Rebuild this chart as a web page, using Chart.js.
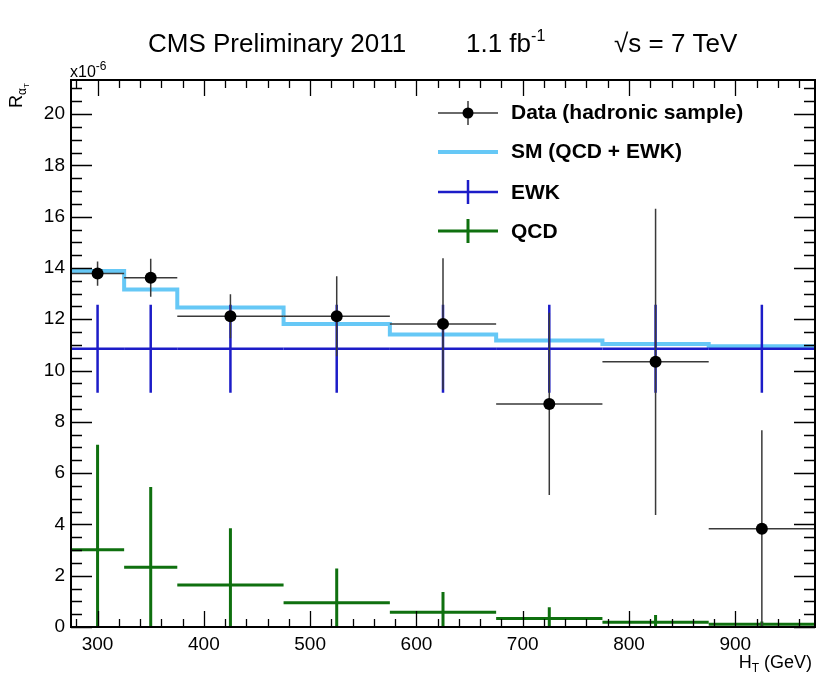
<!DOCTYPE html>
<html>
<head>
<meta charset="utf-8">
<script src="https://cdn.jsdelivr.net/npm/chart.js@4/dist/chart.umd.min.js"></script>
<style>
  html, body { margin: 0; padding: 0; background: #ffffff; }
  canvas { display: block; }
</style>
</head>
<body>
<canvas id="rAlphaT" width="816" height="677"></canvas>
<script>
// bins of H_T (GeV)
const binEdges   = [275, 325, 375, 475, 575, 675, 775, 875, 975];
const binCenters = [300, 350, 425, 525, 625, 725, 825, 925];

// R_alphaT values (x10^-6)
const dataValues = [13.78, 13.62, 12.12, 12.12, 11.82, 8.70, 10.34, 3.83];
const dataErrors = [0.47, 0.74, 0.86, 1.56, 2.56, 3.55, 5.97, 3.84];
const smValues   = [13.88, 13.16, 12.46, 11.82, 11.41, 11.17, 11.04, 10.95];
const ewkValues  = [10.85, 10.85, 10.85, 10.85, 10.85, 10.85, 10.85, 10.85];
const ewkErrors  = [1.72, 1.72, 1.72, 1.72, 1.72, 1.72, 1.72, 1.72];
const qcdValues  = [3.01, 2.33, 1.64, 0.95, 0.58, 0.33, 0.19, 0.11];
const qcdErrors  = [4.10, 3.13, 2.21, 1.33, 0.78, 0.44, 0.28, 0.10];

// axis ticks
const xTickValues = [300, 400, 500, 600, 700, 800, 900];
const yTickValues = [0, 2, 4, 6, 8, 10, 12, 14, 16, 18, 20];

const FONT = '"Liberation Sans", Arial, Helvetica, sans-serif';
const colData = '#000000';
const colDataBar = '#3a3a3a';
const colSM = '#66c8f6';
const colEWK = '#1c1cc8';
const colQCD = '#0f700f';

// SM drawn as a step histogram: one point per left bin edge + final edge
const smPoints = binEdges.map((e, i) => ({ x: e, y: smValues[Math.min(i, smValues.length - 1)] }));
const dataPoints = binCenters.map((c, i) => ({ x: c, y: dataValues[i] }));

// draws ROOT-style "E" crosses: horizontal bin width + vertical error
function drawCrosses(ctx, x, y, values, errors, color, width) {
  ctx.strokeStyle = color;
  ctx.lineWidth = width;
  ctx.lineCap = 'butt';
  values.forEach((v, i) => {
    ctx.beginPath();
    ctx.moveTo(x.getPixelForValue(binEdges[i]), y.getPixelForValue(v));
    ctx.lineTo(x.getPixelForValue(binEdges[i + 1]), y.getPixelForValue(v));
    ctx.moveTo(x.getPixelForValue(binCenters[i]), y.getPixelForValue(Math.max(v - errors[i], 0)));
    ctx.lineTo(x.getPixelForValue(binCenters[i]), y.getPixelForValue(v + errors[i]));
    ctx.stroke();
  });
}

// text with a raised or lowered smaller part
function textRun(ctx, parts, x0, y0) {
  let x = x0;
  parts.forEach(p => {
    ctx.font = (p.bold ? 'bold ' : '') + p.size + 'px ' + FONT;
    ctx.fillText(p.t, x, y0 + (p.dy || 0));
    x += ctx.measureText(p.t).width;
  });
  return x;
}

const histPlugin = {
  id: 'histPlugin',
  afterDatasetDraw(chart, args) {
    if (args.index !== 1) return; // right after the SM line
    const { ctx, chartArea: a, scales: { x, y } } = chart;
    ctx.save();
    ctx.beginPath();
    ctx.rect(a.left, a.top, a.right - a.left, a.bottom - a.top);
    ctx.clip();
    drawCrosses(ctx, x, y, ewkValues, ewkErrors, colEWK, 2.5);
    drawCrosses(ctx, x, y, qcdValues, qcdErrors, colQCD, 3);
    drawCrosses(ctx, x, y, dataValues, dataErrors, colDataBar, 1.5);
    ctx.restore();
  },
  afterDraw(chart) {
    const { ctx, chartArea: a, scales: { x, y } } = chart;
    ctx.save();

    // ticks inside the frame
    ctx.strokeStyle = '#000';
    ctx.lineWidth = 1.3;
    ctx.beginPath();
    for (let v = 280; v <= 975; v += 20) {
      const px = Math.round(x.getPixelForValue(v)) + 0.5;
      const len = v % 100 === 0 ? 16 : 8;
      ctx.moveTo(px, a.bottom); ctx.lineTo(px, a.bottom - len);
      ctx.moveTo(px, a.top); ctx.lineTo(px, a.top + len);
    }
    for (let v = 0; v <= y.max; v += 0.5) {
      const py = Math.round(y.getPixelForValue(v)) + 0.5;
      const len = v % 2 === 0 ? 21 : 11;
      ctx.moveTo(a.left, py); ctx.lineTo(a.left + len, py);
      ctx.moveTo(a.right, py); ctx.lineTo(a.right - len, py);
    }
    ctx.stroke();

    // frame
    ctx.lineWidth = 2;
    ctx.strokeRect(a.left, a.top, a.right - a.left, a.bottom - a.top);

    ctx.fillStyle = '#000';
    ctx.textBaseline = 'alphabetic';

    // title
    textRun(ctx, [{ t: 'CMS Preliminary 2011', size: 26 }], 148, 52);
    textRun(ctx, [{ t: '1.1 fb', size: 26 }, { t: '-1', size: 16, dy: -11 }], 466, 52);
    textRun(ctx, [{ t: '\u221As = 7 TeV', size: 26 }], 614, 52);

    // exponent
    textRun(ctx, [{ t: 'x10', size: 16 }, { t: '-6', size: 12, dy: -7 }], 70, 77);

    // y title (rotated)
    ctx.save();
    ctx.translate(22, 108);
    ctx.rotate(-Math.PI / 2);
    const rx = textRun(ctx, [{ t: 'R', size: 18 }, { t: '\u03B1', size: 12, dy: 4 }], 0, 0);
    textRun(ctx, [{ t: 'T', size: 8, dy: 7 }], rx, 0);
    ctx.restore();

    // x title
    ctx.font = '18px ' + FONT;
    const w1 = ctx.measureText('H').width;
    const w3 = ctx.measureText(' (GeV)').width;
    ctx.font = '12px ' + FONT;
    const w2 = ctx.measureText('T').width;
    textRun(ctx, [{ t: 'H', size: 18 }, { t: 'T', size: 12, dy: 4 }, { t: ' (GeV)', size: 18 }],
      812 - (w1 + w2 + w3), 668);

    // legend
    const lx0 = 438, lx1 = 498, lxm = 468, tx = 511;
    const rows = [113, 152, 192, 231];
    ctx.lineCap = 'butt';
    // data
    ctx.strokeStyle = colDataBar; ctx.lineWidth = 1.5;
    ctx.beginPath();
    ctx.moveTo(lx0, rows[0]); ctx.lineTo(lx1, rows[0]);
    ctx.moveTo(lxm, rows[0] - 12); ctx.lineTo(lxm, rows[0] + 12);
    ctx.stroke();
    ctx.beginPath(); ctx.arc(lxm, rows[0], 5.5, 0, Math.PI * 2); ctx.fillStyle = colData; ctx.fill();
    // SM
    ctx.strokeStyle = colSM; ctx.lineWidth = 4;
    ctx.beginPath(); ctx.moveTo(lx0, rows[1]); ctx.lineTo(lx1, rows[1]); ctx.stroke();
    // EWK
    ctx.strokeStyle = colEWK; ctx.lineWidth = 2.5;
    ctx.beginPath();
    ctx.moveTo(lx0, rows[2]); ctx.lineTo(lx1, rows[2]);
    ctx.moveTo(lxm, rows[2] - 12); ctx.lineTo(lxm, rows[2] + 12);
    ctx.stroke();
    // QCD
    ctx.strokeStyle = colQCD; ctx.lineWidth = 3;
    ctx.beginPath();
    ctx.moveTo(lx0, rows[3]); ctx.lineTo(lx1, rows[3]);
    ctx.moveTo(lxm, rows[3] - 12); ctx.lineTo(lxm, rows[3] + 12);
    ctx.stroke();

    ctx.fillStyle = '#000';
    ctx.textBaseline = 'middle';
    ctx.font = 'bold 21px ' + FONT;
    ctx.fillText('Data (hadronic sample)', tx, rows[0]);
    ctx.fillText('SM (QCD + EWK)', tx, rows[1]);
    ctx.fillText('EWK', tx, rows[2] + 1);
    ctx.fillText('QCD', tx, rows[3] + 1);

    ctx.restore();
  }
};

new Chart(document.getElementById('rAlphaT').getContext('2d'), {
  type: 'scatter',
  data: {
    datasets: [
      {
        label: 'Data (hadronic sample)',
        data: dataPoints,
        order: 0,
        showLine: false,
        pointRadius: 6,
        pointBackgroundColor: colData,
        pointBorderColor: colData,
        pointBorderWidth: 0,
      },
      {
        label: 'SM (QCD + EWK)',
        type: 'line',
        data: smPoints,
        order: 1,
        stepped: true,
        borderColor: colSM,
        borderWidth: 4,
        pointRadius: 0,
        fill: false,
      },
    ],
  },
  options: {
    responsive: false,
    animation: false,
    layout: { autoPadding: false, padding: { top: 80, right: 1, left: 0, bottom: 0 } },
    plugins: {
      legend: { display: false },
      tooltip: { enabled: false },
    },
    scales: {
      x: {
        type: 'linear',
        min: 275,
        max: 975,
        afterBuildTicks: (s) => { s.ticks = xTickValues.map(v => ({ value: v })); },
        afterFit: (s) => { s.height = 50; s.paddingLeft = 0; s.paddingRight = 0; },
        grid: { display: false, drawTicks: false },
        border: { display: false },
        ticks: { color: '#000', padding: 6, maxRotation: 0, font: { family: FONT, size: 19 } },
      },
      y: {
        type: 'linear',
        min: 0,
        max: 21.33,
        afterBuildTicks: (s) => { s.ticks = yTickValues.map(v => ({ value: v })); },
        afterFit: (s) => { s.width = 71; s.paddingTop = 0; s.paddingBottom = 0; },
        grid: { display: false, drawTicks: false },
        border: { display: false },
        ticks: { color: '#000', padding: 6, font: { family: FONT, size: 19 } },
      },
    },
  },
  plugins: [histPlugin],
});
</script>
</body>
</html>
